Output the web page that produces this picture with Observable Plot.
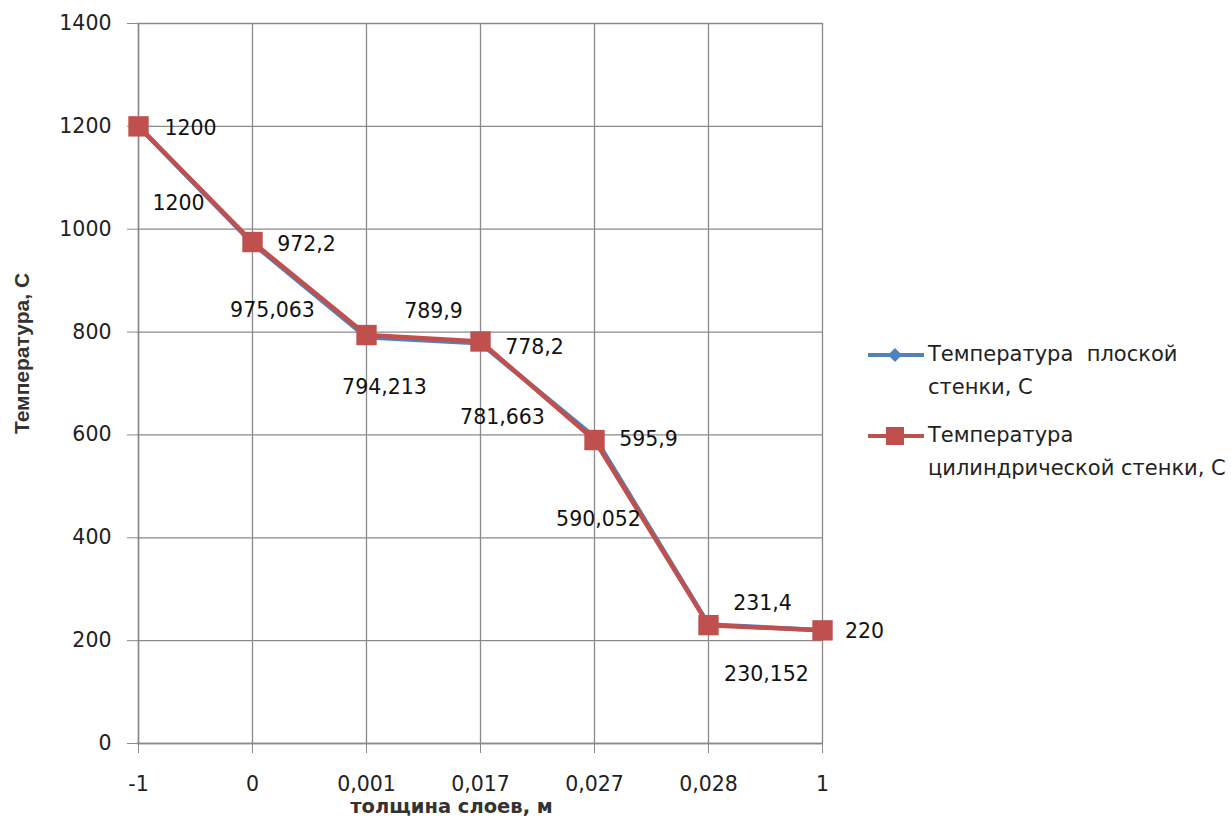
<!DOCTYPE html>
<html>
<head>
<meta charset="utf-8">
<script src="https://cdn.jsdelivr.net/npm/d3@7"></script>
<script src="https://cdn.jsdelivr.net/npm/@observablehq/plot@0.6"></script>
<style>
  html, body { margin: 0; padding: 0; background: #fff; }
  #wrap { position: relative; width: 1231px; height: 823px; overflow: hidden; font-family: "DejaVu Sans", Verdana, sans-serif; }
  #legend { position: absolute; left: 866px; top: 338px; font-size: 21px; color: #222; line-height: 33px; white-space: nowrap; }
  .item { position: relative; padding-left: 62px; margin-bottom: 15px; }
  .item svg { position: absolute; left: 0; top: 0; }
</style>
</head>
<body>
<div id="wrap"><div id="legend"></div></div>
<script>
// ---- data ----
const categories = ["-1", "0", "0,001", "0,017", "0,027", "0,028", "1"];
const flatWall = [1200, 972.2, 789.9, 778.2, 595.9, 231.4, 220];          // Температура плоской стенки, С
const cylWall = [1200, 975.063, 794.213, 781.663, 590.052, 230.152, 220];  // Температура цилиндрической стенки, С
const yTicks = [0, 200, 400, 600, 800, 1000, 1200, 1400];

const blue = "#4F81BD", red = "#C0504D";
const fmt = v => String(v).replace(".", ",");

const flatRows = categories.map((c, i) => ({x: c, y: flatWall[i], label: fmt(flatWall[i])}));
const cylRows = categories.map((c, i) => ({x: c, y: cylWall[i], label: fmt(cylWall[i])}));

// label placement (pixel offsets of each label relative to its point)
const flatLabelOffsets = [[52, 2], [54, 1], [67, -26], [54, 4], [54, 2], [54, -21], [42, 1]];
const cylLabelOffsets = [[40, 77], [20, 68], [18, 52], [22, 76], [4, 79], [58, 49], null];

const labelFont = 20.5;
const labelMarks = [];
flatRows.forEach((r, i) => {
  const o = flatLabelOffsets[i];
  if (o) labelMarks.push(Plot.text([r], {x: "x", y: "y", text: "label", dx: o[0], dy: o[1], fontSize: labelFont, fill: "#111"}));
});
cylRows.forEach((r, i) => {
  const o = cylLabelOffsets[i];
  if (o) labelMarks.push(Plot.text([r], {x: "x", y: "y", text: "label", dx: o[0], dy: o[1], fontSize: labelFont, fill: "#111"}));
});

const chart = Plot.plot({
  width: 1231,
  height: 823,
  marginLeft: 137,
  marginRight: 408,
  marginTop: 23,
  marginBottom: 80,
  style: {fontFamily: "DejaVu Sans, Verdana, sans-serif", fontSize: "20px", color: "#222", background: "transparent", overflow: "visible"},
  x: {type: "point", domain: categories, padding: 0},
  y: {domain: [0, 1400]},
  marks: [
    Plot.gridY(yTicks, {stroke: "#8a8a8a", strokeOpacity: 1, strokeWidth: 1.3}),
    Plot.gridX(categories, {stroke: "#8a8a8a", strokeOpacity: 1, strokeWidth: 1.3}),
    Plot.ruleX([categories[0]], {stroke: "#8a8a8a", strokeWidth: 1.5}),
    Plot.ruleY([0], {stroke: "#8a8a8a", strokeWidth: 1.5}),
    Plot.axisY(yTicks, {tickSize: 10, tickPadding: 16, stroke: "#8a8a8a", fontSize: 20.5, fill: "#222", label: null, tickFormat: d => String(d)}),
    Plot.axisX(categories, {tickSize: 10, tickPadding: 23, stroke: "#8a8a8a", fontSize: 20.5, fill: "#222", label: null}),
    Plot.text(["толщина слоев, м"], {frameAnchor: "bottom", dy: 69, dx: -29, fontSize: 19.5, fontWeight: "bold", fill: "#333"}),
    Plot.text(["Температура, С"], {frameAnchor: "left", textAnchor: "middle", dx: -115, dy: -30, rotate: -90, fontSize: 21, fontWeight: "bold", fill: "#333", fontFamily: "Liberation Sans, Arial, sans-serif"}),
    Plot.line(flatRows, {x: "x", y: "y", stroke: blue, strokeWidth: 4.5}),
    Plot.dot(flatRows, {x: "x", y: "y", symbol: "diamond2", r: 7, fill: blue, stroke: "none"}),
    Plot.line(cylRows, {x: "x", y: "y", stroke: red, strokeWidth: 4.5}),
    Plot.dot(cylRows, {x: "x", y: "y", symbol: "square", r: 11.5, fill: red, stroke: "none"}),
    ...labelMarks
  ]
});
chart.style.position = "absolute";
chart.style.left = "0";
chart.style.top = "0";
document.getElementById("wrap").prepend(chart);

// legend
const legend = document.getElementById("legend");
const items = [
  {name: "Температура&nbsp;&nbsp;плоской<br>стенки, С", color: blue, sym: "diamond"},
  {name: "Температура<br>цилиндрической стенки, С", color: red, sym: "square"}
];
for (const it of items) {
  const div = document.createElement("div");
  div.className = "item";
  const marker = it.sym === "diamond"
    ? `<path d="M29 10 L36 17 L29 24 L22 17 Z" fill="${it.color}"/>`
    : `<rect x="20" y="8" width="18" height="18" fill="${it.color}"/>`;
  div.innerHTML = `<svg width="60" height="34"><line x1="2" x2="58" y1="17" y2="17" stroke="${it.color}" stroke-width="4"/>${marker}</svg>${it.name}`;
  legend.appendChild(div);
}
</script>
</body>
</html>
